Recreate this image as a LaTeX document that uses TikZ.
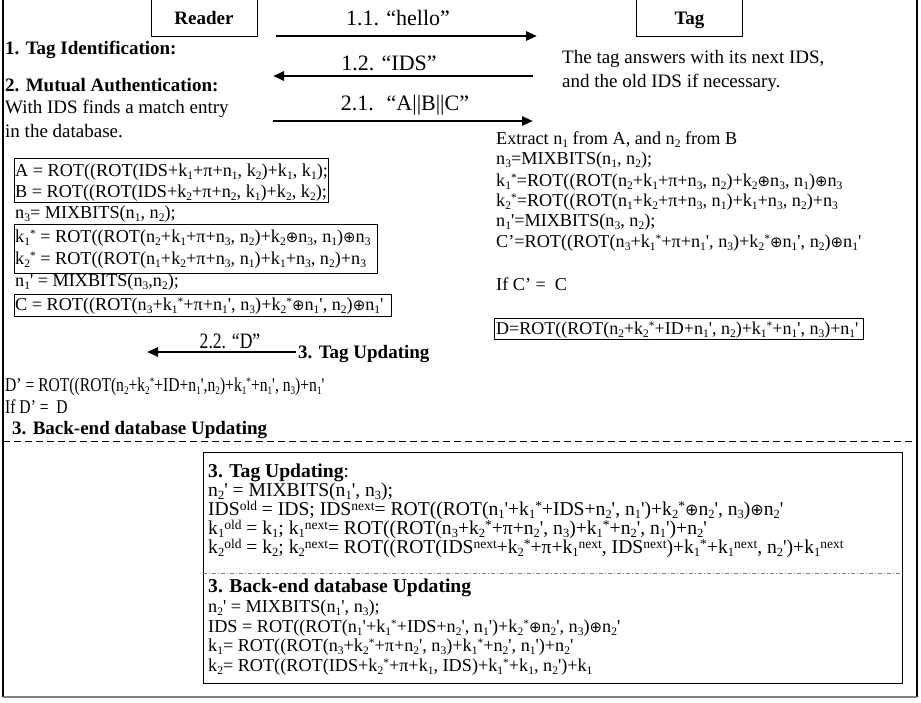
\documentclass[tikz,border=0pt]{standalone}
\usepackage{graphicx}
\usepackage{fontspec}
\setmainfont{Liberation Serif}[Ligatures=TeXOff]
\newfontfamily\dejavu{DejaVu Sans}[Scale=0.82]
\usetikzlibrary{arrows.meta}
\newcommand\subsz{11.5}
\newcommand\supsz{11.5}
\newcommand\subr{-0.2em}
\newcommand\supr{0.27em}
\newcommand\s[1]{\raisebox{\subr}{\fontsize{\subsz}{\subsz}\selectfont #1}}
\newcommand\su[1]{\raisebox{\supr}{\fontsize{\supsz}{\supsz}\selectfont #1}}
\newcommand\kst[1]{k\s{#1}\su{*}}
\newcommand\xo{{\dejavu ⊕}}
\newcommand\fbody{\fontsize{19}{22}\selectfont}
\newcommand\fform{\fontsize{18.2}{21}\selectfont}
\newcommand\flab{\fontsize{22}{25}\selectfont}
\newcommand\cnd[1]{\scalebox{0.8}[1]{#1}}
\begin{document}
\begin{tikzpicture}[x=1pt,y=-1pt,
  txt/.style={anchor=base west,inner sep=0pt,font=\fbody},
  hdr/.style={anchor=base west,inner sep=0pt,font=\fbody\bfseries},
  frm/.style={anchor=base west,inner sep=0pt,font=\fform},
  ufrm/.style={anchor=base west,inner sep=0pt,font={\fontsize{19.6}{22}\selectfont\def\subsz{12.5}\def\supsz{13.5}\def\supr{0.24em}\def\subr{-0.2em}}},
  cfrm/.style={anchor=base west,inner sep=0pt,font=\fontsize{19.5}{22}\selectfont},
  lbl/.style={anchor=base,inner sep=0pt,font=\flab},
  party/.style={draw,line width=0.8pt,minimum width=106pt,minimum height=42pt,inner sep=0pt},
  fbox/.style={draw,line width=0.8pt,anchor=north west,inner sep=0pt},
  msg/.style={line width=2.8pt,-{Triangle[length=11pt,width=9pt]}}]
\useasboundingbox (0,0) rectangle (921,702);
% outer frame (open at top)
\draw[line width=1.2pt] (3,-5) -- (3,697);
\draw[line width=1.2pt] (917,-5) -- (917,697);
\draw[line width=1.6pt,gray] (3,697) -- (917,697);
% parties
\node[party] (reader) at (204,15) {};
\node[anchor=base,inner sep=0pt,font=\fbody\bfseries] (readert) at (204,24) {Reader};
\node[party] (tag) at (689.5,15) {};
\node[anchor=base,inner sep=0pt,font=\fbody\bfseries] (tagt) at (689.5,24) {Tag};
% messages
\coordinate (m11a) at (276,36); \coordinate (m11b) at (537,36);
\draw[msg] (m11a) -- (m11b);
\node[lbl] (l11) at (398,25) {1.1. “hello”};
\coordinate (m12a) at (533,76); \coordinate (m12b) at (273,76);
\draw[msg] (m12a) -- (m12b);
\node[lbl] (l12) at (389,70) {1.2. “IDS”};
\coordinate (m21a) at (273,121); \coordinate (m21b) at (533,121);
\draw[msg] (m21a) -- (m21b);
\node[lbl] (l21) at (405,110) {2.1. \ “A||B||C”};
\coordinate (m22a) at (296,352); \coordinate (m22b) at (147,352);
\draw[msg] (m22a) -- (m22b);
\node[lbl] (l22) at (230,348) {\cnd{2.2. “D”}};
% left column
\node[hdr] (h1) at (5,54) {1. Tag Identification:};
\node[hdr] (h2) at (5,91) {2. Mutual Authentication:};
\node[txt] (w1) at (5,113) {With IDS finds a match entry};
\node[txt] (w2) at (5,137) {in the database.};
\node[fbox,minimum width=314pt,minimum height=44pt] (bab) at (14,158) {};
\node[frm] (fa) at (15,176) {A = ROT((ROT(IDS+k\s1+π+n\s1, k\s2)+k\s1, k\s1);};
\node[frm] (fb) at (15,197) {B = ROT((ROT(IDS+k\s2+π+n\s2, k\s1)+k\s2, k\s2);};
\node[frm] (fn3) at (15,218) {n\s3= MIXBITS(n\s1, n\s2);};
\node[fbox,minimum width=363pt,minimum height=49pt] (bk) at (14,224) {};
\node[frm] (fk1) at (15,242) {\kst1 = ROT((ROT(n\s2+k\s1+π+n\s3, n\s2)+k\s2\xo n\s3, n\s1)\xo n\s3};
\node[frm] (fk2) at (15,264) {\kst2 = ROT((ROT(n\s1+k\s2+π+n\s3, n\s1)+k\s1+n\s3, n\s2)+n\s3};
\node[frm] (fn1) at (15,286) {n\s1' = MIXBITS(n\s3,n\s2);};
\node[fbox,minimum width=377pt,minimum height=22pt] (bc) at (14,294) {};
\node[frm] (fc) at (15,310) {C = ROT((ROT(n\s3+\kst1+π+n\s1', n\s3)+\kst2\xo n\s1', n\s2)\xo n\s1'};
% right column
\node[txt] (ta1) at (562,63) {The tag answers with its next IDS,};
\node[txt] (ta2) at (562,87) {and the old IDS if necessary.};
\node[frm] (r1) at (496,144) {Extract n\s1 from A, and n\s2 from B};
\node[frm] (r2) at (496,164) {n\s3=MIXBITS(n\s1, n\s2);};
\node[frm] (r3) at (496,186) {\kst1=ROT((ROT(n\s2+k\s1+π+n\s3, n\s2)+k\s2\xo n\s3, n\s1)\xo n\s3};
\node[frm] (r4) at (496,206) {\kst2=ROT((ROT(n\s1+k\s2+π+n\s3, n\s1)+k\s1+n\s3, n\s2)+n\s3};
\node[frm] (r5) at (496,226) {n\s1'=MIXBITS(n\s3, n\s2);};
\node[frm] (r6) at (496,247) {C’=ROT((ROT(n\s3+\kst1+π+n\s1', n\s3)+\kst2\xo n\s1', n\s2)\xo n\s1'};
\node[frm] (r7) at (496,290) {If C’ = \ C};
\node[fbox,minimum width=369pt,minimum height=21pt] (bd) at (494,318) {};
\node[frm,font=\fontsize{18}{21}\selectfont] (r8) at (496,334) {D=ROT((ROT(n\s2+\kst2+ID+n\s1', n\s2)+\kst1+n\s1', n\s3)+n\s1'};
\node[hdr] (tu) at (298,358) {3. Tag Updating};
% lower left
\node[cfrm] (d1) at (5,391) {\cnd{D’ = ROT((ROT(n\s2+\kst2+ID+n\s1',n\s2)+\kst1+n\s1', n\s3)+n\s1'}};
\node[cfrm] (d2) at (5,413) {\cnd{If D’ = \ D}};
\node[hdr] (d3) at (12,434) {3. Back-end database Updating};
% separator
\draw[line width=0.8pt,dash pattern=on 7pt off 4pt] (3,441) -- (917,441);
% bottom box
\node[fbox,minimum width=699pt,minimum height=231pt] (bb) at (203,452) {};
\draw[line width=0.6pt,gray,dash pattern=on 4pt off 2pt on 1pt off 2pt] (bb.west |- 0,573) -- (bb.east |- 0,573);
\node[ufrm] (u0) at (208,477) {\textbf{3. Tag Updating}:};
\node[ufrm] (u1) at (208,496) {n\s2' = MIXBITS(n\s1', n\s3);};
\node[ufrm] (u2) at (208,515) {IDS\su{old} = IDS; IDS\su{next}= ROT((ROT(n\s1'+\kst1+IDS+n\s2', n\s1')+\kst2\xo n\s2', n\s3)\xo n\s2'};
\node[ufrm] (u3) at (208,534) {k\s1\su{old} = k\s1; k\s1\su{next}= ROT((ROT(n\s3+\kst2+π+n\s2', n\s3)+\kst1+n\s2', n\s1')+n\s2'};
\node[ufrm] (u4) at (208,553) {k\s2\su{old} = k\s2; k\s2\su{next}= ROT((ROT(IDS\su{next}+\kst2+π+k\s1\su{next}, IDS\su{next})+\kst1+k\s1\su{next}, n\s2')+k\s1\su{next}};
\node[ufrm] (v0) at (208,592) {\textbf{3. Back-end database Updating}};
\node[frm] (v1) at (208,612) {n\s2' = MIXBITS(n\s1', n\s3);};
\node[frm] (v2) at (208,632) {IDS = ROT((ROT(n\s1'+\kst1+IDS+n\s2', n\s1')+\kst2\xo n\s2', n\s3)\xo n\s2'};
\node[frm] (v3) at (208,651) {k\s1= ROT((ROT(n\s3+\kst2+π+n\s2', n\s3)+\kst1+n\s2', n\s1')+n\s2'};
\node[frm] (v4) at (208,671) {k\s2= ROT((ROT(IDS+\kst2+π+k\s1, IDS)+\kst1+k\s1, n\s2')+k\s1};
\end{tikzpicture}
\end{document}
